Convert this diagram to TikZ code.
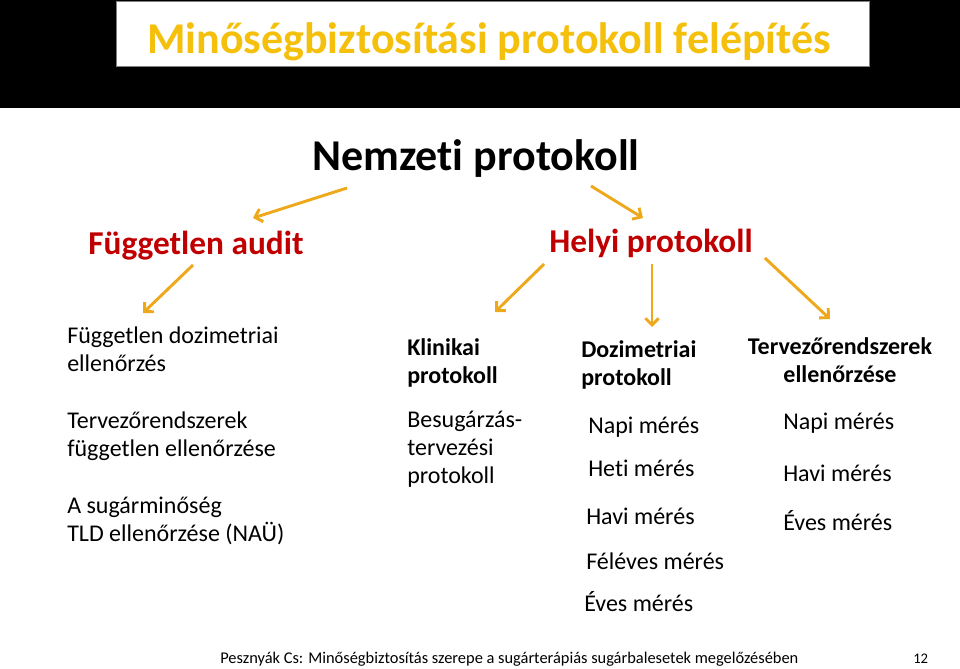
\documentclass[tikz,border=0pt]{standalone}
\usepackage{fontspec}
\setmainfont{Carlito}[Ligatures={NoCommon,NoContextual},Contextuals=NoAlternate]
\usetikzlibrary{arrows.meta,calc}
\definecolor{gold}{RGB}{244,192,12}
\definecolor{arrowc}{RGB}{238,168,28}
\definecolor{darkred}{RGB}{192,0,0}
\tikzset{
  arr/.style={draw=arrowc, line width=2.2pt, -{Straight Barb[length=5pt,width=10pt]}},
  body/.style={anchor=base west, inner sep=0, align=left, font=\fontsize{18}{21}\selectfont},
  head/.style={body, font=\fontsize{18}{21}\selectfont\bfseries},
  level/.style={anchor=base, inner sep=0, text=darkred, font=\fontsize{25}{30}\selectfont\bfseries},
}
\begin{document}
\begin{tikzpicture}[x=0.75pt,y=-0.75pt]
  \useasboundingbox (0,0) rectangle (960,668);
  \fill[black] (0,0) rectangle (960,108);
  \filldraw[fill=white, draw=gray] (116,1) rectangle (869,66);
  \node[anchor=base, inner sep=0, text=gold, font=\fontsize{33}{40}\selectfont\bfseries] (Title) at (489,53) {Minőségbiztosítási protokoll felépítés};

  \node[anchor=base, inner sep=0, font=\fontsize{33}{38}\selectfont\bfseries] (Nemzeti) at (476,170) {Nemzet\kern0pt i protokoll};
  \node[level] (Audit) at (196,254) {Független audit};
  \node[level] (Helyi) at (651,252) {Helyi protokoll};
  \draw[arr] ($(Nemzeti.base west)+(35,18)$) -- ($(Audit.base)+(57,-36)$);
  \draw[arr] ($(Nemzeti.base east)+(-49,16)$) -- ($(Helyi.base)+(-8,-34)$);

  % Független audit
  \node[body] (FuggDoz) at (67,371) {Független dozimetriai\\ellenőrzés};
  \node[body] (FuggTPS) at (67,456) {Tervezőrendszerek\\független ellenőrzése};
  \node[body] (FuggTLD) at (67,541) {A sugárminőség\\TLD ellenőrzése (NAÜ)};
  \draw[arr] ($(Audit.base)+(-3,11)$) -- ($(FuggDoz.base west)+(76,-58)$);

  % Helyi protokoll
  \node[head] (Klin) at (407,383) {Klinikai\\protokoll};
  \node[body] (KlinTerv) at (407,483) {Besugárzás-\\tervezési\\protokoll};
  \node[head] (Dozi) at (581,385) {Dozimetriai\\protokoll};
  \node[body] (DoziNapi) at (588,433) {Napi mérés};
  \node[body] (DoziHeti) at (588,476) {Heti mérés};
  \node[body] (DoziHavi) at (586,524) {Havi mérés};
  \node[body] (DoziFel) at (586,569) {Féléves mérés};
  \node[body] (DoziEves) at (584,611) {Éves mérés};
  \node[head, anchor=base, align=center] (TPS) at (840,382) {Tervezőrendszerek\\ellenőrzése};
  \node[body] (TPSNapi) at (783,429) {Napi mérés};
  \node[body] (TPSHavi) at (783,481) {Havi mérés};
  \node[body] (TPSEves) at (783,530) {Éves mérés};
  \draw[arr] ($(Helyi.base west)+(-5,12)$) -- ($(Klin.base west)+(88,-71)$);
  \draw[arr] ($(Helyi.base)+(1,12)$) -- ($(Dozi.base west)+(71,-58)$);
  \draw[arr] ($(Helyi.base east)+(12,6)$) -- ($(TPS.base)+(-10,-63)$);

  % lábléc
  \node[anchor=base west, inner sep=0, font=\fontsize{12.3}{14}\selectfont] (Foot) at (220,663) {Pesznyák Cs: Minőségbiztosítás szerepe a sugárterápiás sugárbalesetek megelőzésében};
  \node[anchor=base west, inner sep=0, font=\fontsize{11}{13}\selectfont] (Page) at (913,663) {12};
\end{tikzpicture}
\end{document}
